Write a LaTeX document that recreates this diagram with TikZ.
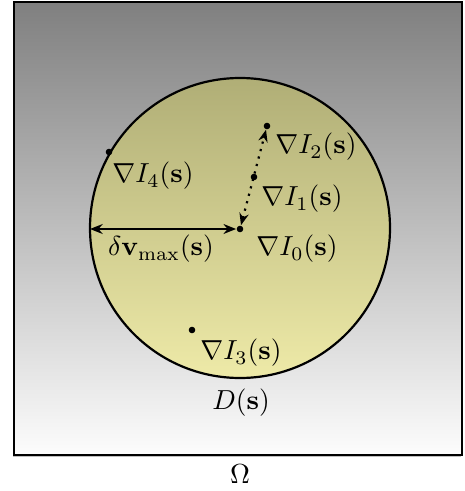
\documentclass[tikz,border=0pt]{standalone}
\usetikzlibrary{arrows.meta}
\begin{document}
\begin{tikzpicture}[x=0.3636pt,y=-0.3636pt,
  dot/.style={circle,fill=black,inner sep=0pt,minimum size=2.4pt},
  lbl/.style={inner sep=0pt},
  border/.style={line width=0.8pt}]
\useasboundingbox (0,0) rectangle (464,491);
\fill[black!25] (12.5,3.5) rectangle (461,456.5);
\shade[top color=black!50,bottom color=black!1] (14,2) rectangle (462,455);
\draw[border] (14,2) rectangle (462,455);
\shade[top color={rgb,255:red,176;green,174;blue,118},bottom color={rgb,255:red,238;green,234;blue,168}] (240,228) circle [radius=54.54pt];
\draw[border] (240,228) circle [radius=54.54pt];
\node[dot] (i0) at (240,229) {};
\node[dot] (i1) at (254,177) {};
\node[dot] (i2) at (267,126) {};
\node[dot] (i3) at (192,330) {};
\node[dot] (i4) at (109,152) {};
\coordinate (L) at (90,229);
\draw[line width=0.7pt,{Stealth[length=4.6pt,width=3.6pt]}-{Stealth[length=4.6pt,width=3.6pt]}] (L) -- (i0);
\draw[line width=0.8pt,dotted,{Stealth[length=4.4pt,width=3.4pt]}-{Stealth[length=4.4pt,width=3.4pt]}] (i0) -- (i2);
\node[lbl] (t2) at (316,147) {$\nabla I_2(\mathbf{s})$};
\node[lbl] (t1) at (302,199) {$\nabla I_1(\mathbf{s})$};
\node[lbl] (t0) at (297,249) {$\nabla I_0(\mathbf{s})$};
\node[lbl] (t4) at (153,176) {$\nabla I_4(\mathbf{s})$};
\node[lbl] (tv) at (161,249) {$\delta\mathbf{v}_{\max}(\mathbf{s})$};
\node[lbl] (t3) at (241,353) {$\nabla I_3(\mathbf{s})$};
\node[lbl] (td) at (241,403) {$D(\mathbf{s})$};
\node[lbl] (to) at (240,474) {$\Omega$};
\end{tikzpicture}
\end{document}
